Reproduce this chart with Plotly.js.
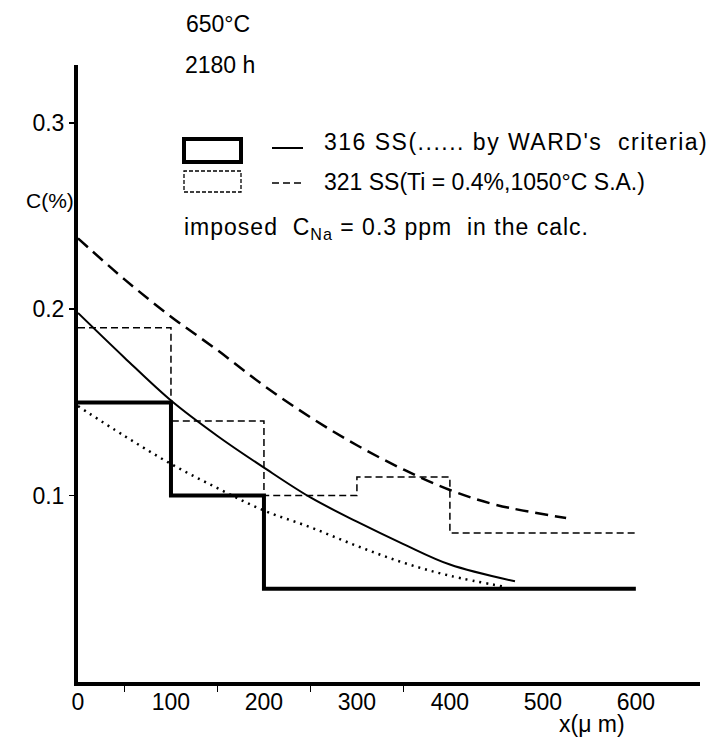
<!DOCTYPE html>
<html>
<head>
<meta charset="utf-8">
<script src="https://cdn.plot.ly/plotly-3.0.1.min.js"></script>
<style>html,body{margin:0;padding:0;background:#fff;}#chart{width:716px;height:738px;}</style>
</head>
<body>
<div id="chart"></div>
<script>
// ---- data ----
// measured carbon profiles (step histograms)
const stepX316 = [0, 100, 200, 600];
const stepY316 = [0.15, 0.10, 0.05, 0.05];
const stepX321 = [0, 100, 200, 300, 400, 600];
const stepY321 = [0.19, 0.14, 0.10, 0.11, 0.08, 0.08];
// calculated profiles
const calcX316 = [0, 50, 100, 150, 200, 250, 300, 350, 400, 470];
const calcY316 = [0.198, 0.174, 0.151, 0.132, 0.115, 0.099, 0.086, 0.074, 0.063, 0.054];
const calcX321 = [0, 50, 100, 150, 200, 250, 300, 350, 400, 450, 525];
const calcY321 = [0.238, 0.216, 0.196, 0.178, 0.159, 0.142, 0.127, 0.114, 0.103, 0.095, 0.088];
const wardX = [0, 50, 100, 150, 200, 250, 300, 350, 400, 460];
const wardY = [0.148, 0.132, 0.117, 0.104, 0.092, 0.083, 0.073, 0.064, 0.057, 0.051];
// axis ticks
const xTickVals = [0, 100, 200, 300, 400, 500, 600];
const xTickText = ['0', '100', '200', '300', '400', '500', '600'];
const xMinorTicks = [50, 150, 250, 350];
const yTickVals = [0.1, 0.2, 0.3];
const yTickText = ['0.1', '0.2', '0.3'];

const FONT = 'Liberation Sans, Arial, sans-serif';
// plot area in pixels: left 78, right 700, top 65, bottom 682
const L = 78, R = 700, T = 65, B = 682;
const px = v => (v - L) / (R - L);
const py = v => (B - v) / (B - T);

const traces = [
  {x: stepX316, y: stepY316, mode: 'lines', line: {shape: 'hv', color: '#000', width: 4}},
  {x: stepX321, y: stepY321, mode: 'lines', line: {shape: 'hv', color: '#000', width: 1.5, dash: '7px,4px'}},
  {x: calcX316, y: calcY316, mode: 'lines', line: {shape: 'spline', color: '#000', width: 2}},
  {x: calcX321, y: calcY321, mode: 'lines', line: {shape: 'spline', color: '#000', width: 2.5, dash: '13px,7px'}},
  {x: wardX, y: wardY, mode: 'lines', line: {shape: 'spline', color: '#000', width: 2.5, dash: '2px,5px'}}
];

function ann(text, xp, yp, xanchor, size) {
  return {text: text, xref: 'paper', yref: 'paper', x: px(xp), y: py(yp), xanchor: xanchor || 'left',
          yanchor: 'middle', showarrow: false, font: {family: FONT, size: size || 23, color: '#000'}};
}

const layout = {
  width: 716, height: 738,
  margin: {l: L, r: 716 - R, t: T, b: 738 - B},
  paper_bgcolor: '#fff', plot_bgcolor: '#fff',
  showlegend: false,
  font: {family: FONT, size: 23, color: '#000'},
  xaxis: {
    range: [0, 669], showline: true, linewidth: 4, linecolor: '#000',
    showgrid: false, zeroline: false,
    tickmode: 'array', tickvals: xTickVals, ticktext: xTickText, ticks: '',
    ticklabelstandoff: -4, tickfont: {family: FONT, size: 23, color: '#000'},
    minor: {tickmode: 'array', tickvals: xMinorTicks, ticks: 'outside', ticklen: 6, tickwidth: 1.5, tickcolor: '#000', showgrid: false}
  },
  yaxis: {
    range: [0, 0.331], showline: true, linewidth: 4, linecolor: '#000',
    showgrid: false, zeroline: false,
    tickmode: 'array', tickvals: yTickVals, ticktext: yTickText, ticks: 'outside', ticklen: 5, tickwidth: 1.5, tickcolor: '#000',
    ticklabelstandoff: 0, tickfont: {family: FONT, size: 23, color: '#000'}
  },
  shapes: [
    {type: 'rect', xref: 'paper', yref: 'paper', x0: px(184), x1: px(241), y0: py(162), y1: py(139), line: {color: '#000', width: 4}},
    {type: 'rect', xref: 'paper', yref: 'paper', x0: px(184), x1: px(241), y0: py(192), y1: py(171), line: {color: '#000', width: 1.3, dash: '4px,2px'}},
    {type: 'line', xref: 'paper', yref: 'paper', x0: px(272), x1: px(303), y0: py(148), y1: py(148), line: {color: '#000', width: 2}},
    {type: 'line', xref: 'paper', yref: 'paper', x0: px(272), x1: px(303), y0: py(183), y1: py(183), line: {color: '#000', width: 1.5, dash: '7px,4px'}}
  ],
  annotations: [
    ann('650°C', 184, 24),
    ann('2180 h', 183, 65),
    ann('C(%)', 50, 200, 'center', 21),
    ann('<span style="letter-spacing:1.5px">316 SS(...... by WARD\'s  criteria)</span>', 322, 142),
    ann('321 SS(Ti = 0.4%,1050°C S.A.)', 322, 182),
    ann('<span style="letter-spacing:1px">imposed  C<sub>Na</sub> = 0.3 ppm  in the calc.</span>', 182, 228),
    ann('x(μ m)', 592, 724, 'center', 23)
  ]
};

Plotly.newPlot('chart', traces, layout, {staticPlot: true, displayModeBar: false});
</script>
</body>
</html>
